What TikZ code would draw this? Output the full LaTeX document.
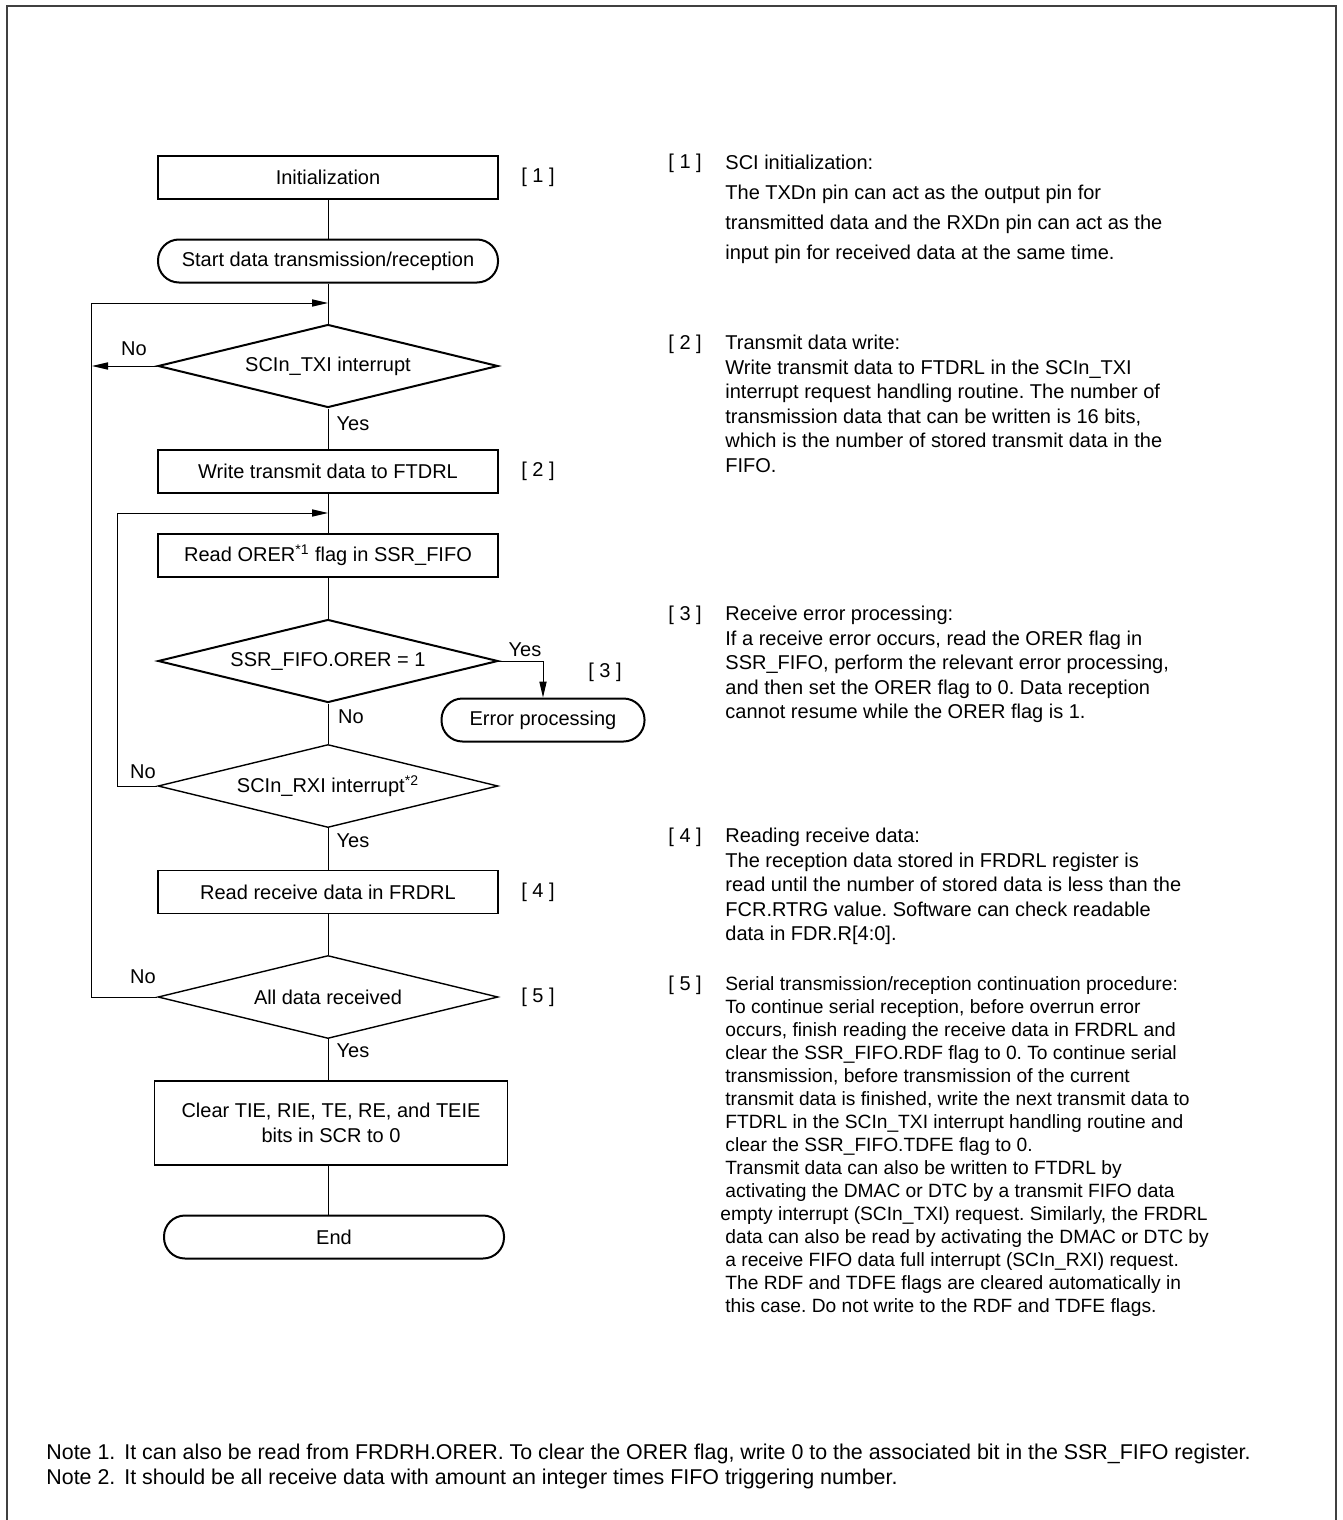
\documentclass[tikz,border=0pt]{standalone}
\usepackage{fontspec}
\setmainfont{Liberation Sans}
\usetikzlibrary{shapes.geometric,arrows.meta,positioning}
\frenchspacing

\tikzset{
  procbox/.style={draw, line width=1pt, minimum width=170pt, minimum height=21.5pt, inner sep=2pt, font=\fontsize{10}{12}\selectfont},
  thinbox/.style={procbox, line width=0.7pt},
  termbox/.style={procbox, rounded corners=10.5pt},
  decision/.style={draw, diamond, aspect=4, line width=1pt, minimum width=170pt, minimum height=41.5pt, inner sep=0pt, font=\fontsize{10}{12}\selectfont},
  thindecision/.style={decision, line width=0.7pt},
  flowlabel/.style={font=\fontsize{10}{12}\selectfont, inner sep=0pt},
  steptag/.style={font=\fontsize{10}{12}\selectfont, inner sep=0pt},
  desctext/.style={anchor=north west, align=left, inner sep=0pt, font=\fontsize{10}{12.25}\selectfont},
  notetext/.style={anchor=base west, inner sep=0pt, font=\fontsize{10.7}{12.5}\selectfont},
  flow/.style={line width=0.5pt},
  flowarrow/.style={flow, -{Triangle[length=8pt,width=3.6pt]}}
}

\begin{document}
\begin{tikzpicture}[x=0.5pt, y=-0.5pt]
        \useasboundingbox (0,0) rectangle (1343,1520);
        % Frame
        \draw[line width=1pt, color=black!75] (7,1540) -- (7,6) -- (1336,6) -- (1336,1540);

        % Flow chart
        \node[procbox] (init) at (328,177) {Initialization};
        \node[termbox] (start) at (328,261) {Start data transmission/reception};
        \node[decision] (txi) at (328,366) {SCIn\_TXI interrupt};
        \node[procbox] (wrtx) at (328,471) {Write transmit data to FTDRL};
        \node[procbox] (rdorer) at (328,555) {Read ORER\textsuperscript{*1} flag in SSR\_FIFO};
        \node[decision] (orer) at (328,661) {SSR\_FIFO.ORER = 1};
        \node[termbox, minimum width=101.5pt] (err) at (543,720) {Error processing};
        \node[thindecision] (rxi) at (328,786) {SCIn\_RXI interrupt\textsuperscript{*2}};
        \node[thinbox] (rdrx) at (328,892) {Read receive data in FRDRL};
        \node[thindecision] (alldata) at (328,997) {All data received};
        \node[thinbox, minimum width=176.5pt, minimum height=42pt, align=center, font=\fontsize{10}{12.5}\selectfont] (clr) at (331,1123) {Clear TIE, RIE, TE, RE, and TEIE\\bits in SCR to 0};
        \node[termbox] (end) at (334,1237) {End};

        % Connectors
        \coordinate (txback) at (328,303);
        \coordinate (rxback) at (328,513);
        \coordinate (txno) at (92,366);
        \draw[flow] (init) -- (start);
        \draw[flow] (start) -- (txi);
        \draw[flow] (txi) -- (wrtx);
        \draw[flow] (wrtx) -- (rdorer);
        \draw[flow] (rdorer) -- (orer);
        \draw[flow] (orer) -- (rxi);
        \draw[flow] (rxi) -- (rdrx);
        \draw[flow] (rdrx) -- (alldata);
        \draw[flow] (alldata) -- (alldata.south |- clr.north);
        \draw[flow] (clr.south -| init.south) -- (end.north -| init.south);
        \draw[flowarrow] (alldata.west) -- ++(-66,0) |- (txback);
        \draw[flowarrow] (txi.west) -- (txno);
        \draw[flowarrow] (rxi.west) -- ++(-40,0) |- (rxback);
        \draw[flowarrow] (orer.east) -| (err.north);

        % Yes / No labels
        \node[flowlabel] (txino) at (134,349) {No};
        \node[flowlabel] (txiyes) at (353,424) {Yes};
        \node[flowlabel] (oreryes) at (525,650) {Yes};
        \node[flowlabel] (orerno) at (351,717) {No};
        \node[flowlabel] (rxino) at (143,772) {No};
        \node[flowlabel] (rxiyes) at (353,841) {Yes};
        \node[flowlabel] (allno) at (143,977) {No};
        \node[flowlabel] (allyes) at (353,1051) {Yes};

        % Step tags beside the chart
        \node[steptag] (ftag1) at (538,177) {[ 1 ]};
        \node[steptag] (ftag2) at (538,471) {[ 2 ]};
        \node[steptag] (ftag3) at (605,672) {[ 3 ]};
        \node[steptag] (ftag4) at (538,892) {[ 4 ]};
        \node[steptag] (ftag5) at (538,997) {[ 5 ]};

        % Descriptions
        \node[steptag, anchor=base west] (tag1) at (668,169) {[ 1 ]};
        \node[desctext, font=\fontsize{10}{15}\selectfont] (desc1) at (725,155) {SCI initialization:\\
            The TXDn pin can act as the output pin for\\
            transmitted data and the RXDn pin can act as the\\
            input pin for received data at the same time.};
        \node[steptag, anchor=base west] (tag2) at (668,349) {[ 2 ]};
        \node[desctext] (desc2) at (725,335) {Transmit data write:\\
            Write transmit data to FTDRL in the SCIn\_TXI\\
            interrupt request handling routine. The number of\\
            transmission data that can be written is 16 bits,\\
            which is the number of stored transmit data in the\\
            FIFO.};
        \node[steptag, anchor=base west] (tag3) at (668,620) {[ 3 ]};
        \node[desctext] (desc3) at (725,606) {Receive error processing:\\
            If a receive error occurs, read the ORER flag in\\
            SSR\_FIFO, perform the relevant error processing,\\
            and then set the ORER flag to 0. Data reception\\
            cannot resume while the ORER flag is 1.};
        \node[steptag, anchor=base west] (tag4) at (668,842) {[ 4 ]};
        \node[desctext] (desc4) at (725,828) {Reading receive data:\\
            The reception data stored in FRDRL register is\\
            read until the number of stored data is less than the\\
            FCR.RTRG value. Software can check readable\\
            data in FDR.R[4:0].};
        \node[steptag, anchor=base west] (tag5) at (668,990) {[ 5 ]};
        \node[desctext, font=\fontsize{9.6}{11.5}\selectfont] (desc5) at (725,976) {Serial transmission/reception continuation procedure:\\
            To continue serial reception, before overrun error\\
            occurs, finish reading the receive data in FRDRL and\\
            clear the SSR\_FIFO.RDF flag to 0. To continue serial\\
            transmission, before transmission of the current\\
            transmit data is finished, write the next transmit data to\\
            FTDRL in the SCIn\_TXI interrupt handling routine and\\
            clear the SSR\_FIFO.TDFE flag to 0.\\
            Transmit data can also be written to FTDRL by\\
            activating the DMAC or DTC by a transmit FIFO data\\
            \hspace*{-2.5pt}empty interrupt (SCIn\_TXI) request. Similarly, the FRDRL\\
            data can also be read by activating the DMAC or DTC by\\
            a receive FIFO data full interrupt (SCIn\_RXI) request.\\
            The RDF and TDFE flags are cleared automatically in\\
            this case. Do not write to the RDF and TDFE flags.};

        % Notes
        \node[notetext] (note1) at (46,1459) {Note 1.};
        \node[notetext] (note1txt) at (124,1459) {It can also be read from FRDRH.ORER. To clear the ORER flag, write 0 to the associated bit in the SSR\_FIFO register.};
        \node[notetext] (note2) at (46,1484) {Note 2.};
        \node[notetext] (note2txt) at (124,1484) {It should be all receive data with amount an integer times FIFO triggering number.};
\end{tikzpicture}
\end{document}
